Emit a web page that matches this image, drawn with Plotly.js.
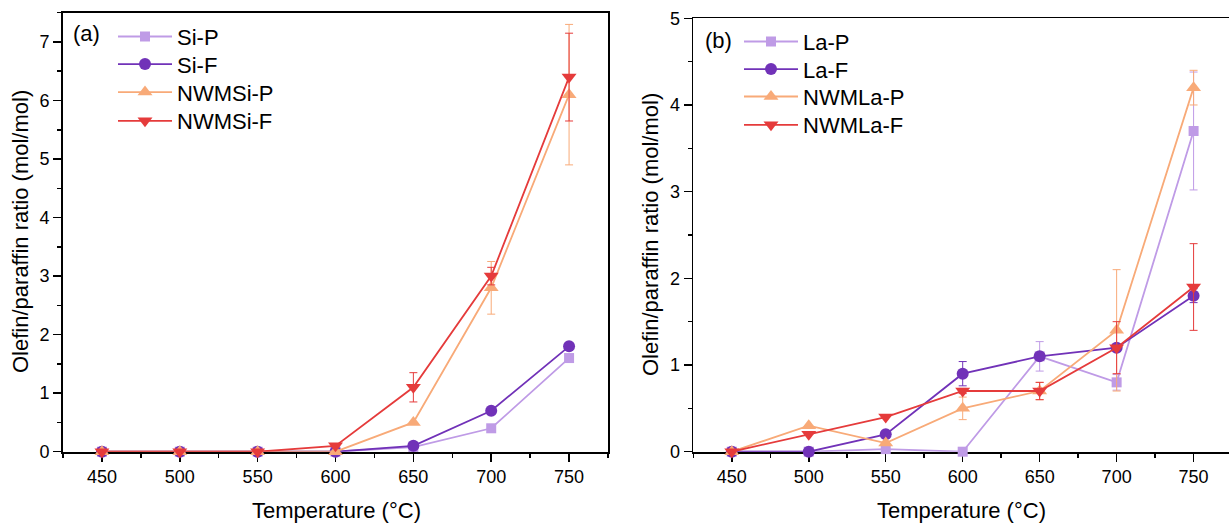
<!DOCTYPE html>
<html>
<head>
<meta charset="utf-8">
<script src="https://cdn.plot.ly/plotly-3.0.1.min.js"></script>
<style>
  html, body { margin: 0; padding: 0; background: #ffffff; overflow: hidden; }
  #chart { width: 1229px; height: 523px; }
</style>
</head>
<body>
<div id="chart"></div>
<script>
// ---------- data ----------
const temperatures = [450, 500, 550, 600, 650, 700, 750];

// panel (a)
const siP      = [0, 0, 0, 0, 0.08, 0.4, 1.6];
const siP_err  = [0, 0, 0, 0, 0, 0, 0];
const siF      = [0, 0, 0, 0, 0.1, 0.7, 1.8];
const siF_err  = [0, 0, 0, 0, 0, 0, 0.05];
const nwmSiP     = [0, 0, 0, 0, 0.5, 2.8, 6.1];
const nwmSiP_err = [0, 0, 0, 0, 0, 0.45, 1.2];
const nwmSiF     = [0, 0, 0, 0.1, 1.1, 3.0, 6.4];
const nwmSiF_err = [0, 0, 0, 0, 0.25, 0.15, 0.75];

// panel (b)
const laP      = [0, 0, 0.03, 0, 1.1, 0.8, 3.7];
const laP_err  = [0, 0, 0, 0, 0.17, 0.09, 0.68];
const laF      = [0, 0, 0.2, 0.9, 1.1, 1.2, 1.8];
const laF_err  = [0, 0, 0, 0.14, 0, 0, 0.08];
const nwmLaP     = [0, 0.3, 0.1, 0.5, 0.7, 1.4, 4.2];
const nwmLaP_err = [0, 0, 0, 0.13, 0.1, 0.7, 0.2];
const nwmLaF     = [0, 0.2, 0.4, 0.7, 0.7, 1.2, 1.9];
const nwmLaF_err = [0, 0, 0, 0.03, 0.1, 0.3, 0.5];

const namesA = ['Si-P', 'Si-F', 'NWMSi-P', 'NWMSi-F'];
const namesB = ['La-P', 'La-F', 'NWMLa-P', 'NWMLa-F'];

// ---------- styles ----------
const colors  = ['#bf9be6', '#7132b8', '#f8aa78', '#e53b3b'];
const symbols = ['square', 'circle', 'triangle-up', 'triangle-down'];
const sizes   = [10, 12, 13, 13];

function series(x, y, err, i, name, xa, ya, legendId) {
  return {
    type: 'scatter', mode: 'lines+markers',
    x: x, y: y, name: name,
    xaxis: xa, yaxis: ya, legend: legendId,
    cliponaxis: false,
    line: { color: colors[i], width: 1.8 },
    marker: { color: colors[i], symbol: symbols[i], size: sizes[i], line: { width: 0 } },
    error_y: { type: 'data', array: err, visible: true, color: colors[i], thickness: 1, width: 4 }
  };
}

const dataA = [
  series(temperatures, siP, siP_err, 0, namesA[0], 'x', 'y', 'legend'),
  series(temperatures, siF, siF_err, 1, namesA[1], 'x', 'y', 'legend2'),
  series(temperatures, nwmSiP, nwmSiP_err, 2, namesA[2], 'x', 'y', 'legend3'),
  series(temperatures, nwmSiF, nwmSiF_err, 3, namesA[3], 'x', 'y', 'legend4')
];
const dataB = [
  series(temperatures, laP, laP_err, 0, namesB[0], 'x2', 'y2', 'legend5'),
  series(temperatures, laF, laF_err, 1, namesB[1], 'x2', 'y2', 'legend6'),
  series(temperatures, nwmLaP, nwmLaP_err, 2, namesB[2], 'x2', 'y2', 'legend7'),
  series(temperatures, nwmLaF, nwmLaF_err, 3, namesB[3], 'x2', 'y2', 'legend8')
];

const W = 1229, H = 523;
const FONT = 'Liberation Sans, Arial, sans-serif';

function xAxis(domain, range, anchor) {
  return {
    domain: domain, range: range, anchor: anchor,
    tick0: 450, dtick: 50, ticks: 'outside', ticklen: 8, tickwidth: 1.5, tickcolor: '#000',
    showline: true, linecolor: '#000', linewidth: 1.8, mirror: true,
    showgrid: false, zeroline: false, layer: 'below traces',
    tickfont: { family: FONT, size: 18, color: '#000' },
    minor: { dtick: 25, tick0: 450, ticks: 'outside', ticklen: 4, tickwidth: 1.5, tickcolor: '#000', showgrid: false },
    automargin: false, fixedrange: true
  };
}
function yAxis(domain, range, anchor) {
  return {
    domain: domain, range: range, anchor: anchor,
    tick0: 0, dtick: 1, ticks: 'outside', ticklen: 8, tickwidth: 1.5, tickcolor: '#000',
    showline: true, linecolor: '#000', linewidth: 1.8, mirror: true,
    showgrid: false, zeroline: false, layer: 'below traces',
    tickfont: { family: FONT, size: 18, color: '#000' },
    minor: { dtick: 0.5, ticks: 'outside', ticklen: 4, tickwidth: 1.5, tickcolor: '#000', showgrid: false },
    automargin: false, fixedrange: true
  };
}

// one legend box per entry so that the row spacing matches the figure
const LEG_OFF = 21;
function legendAt(xpx, rowCenterPx) {
  return {
    x: xpx / W, y: 1 - (rowCenterPx - LEG_OFF) / H, xanchor: 'left', yanchor: 'top',
    bgcolor: 'rgba(0,0,0,0)', borderwidth: 0,
    font: { family: FONT, size: 22, color: '#000' },
    tracegroupgap: 0, itemwidth: 54
  };
}

const axTitleFont = { family: FONT, size: 22, color: '#000' };
const yTitle = 'Olefin/paraffin ratio (mol/mol)';
const xTitle = 'Temperature (°C)';

const layout = {
  width: W, height: H,
  margin: { l: 0, r: 0, t: 0, b: 0 },
  paper_bgcolor: '#fff', plot_bgcolor: '#fff',
  font: { family: FONT, color: '#000' },
  showlegend: true,
  xaxis:  xAxis([63 / W, 608 / W], [425, 775], 'y'),
  yaxis:  yAxis([1 - 451.7 / H, 1 - 12.7 / H], [0, 7.5], 'x'),
  xaxis2: xAxis([693.3 / W, 1], [425, 773], 'y2'),
  yaxis2: yAxis([1 - 451.7 / H, 1 - 18.3 / H], [0, 5], 'x2'),
  legend:  legendAt(113, 36.7),
  legend2: legendAt(113, 64.3),
  legend3: legendAt(113, 92.3),
  legend4: legendAt(113, 121),
  legend5: legendAt(739, 41.7),
  legend6: legendAt(739, 69.3),
  legend7: legendAt(739, 96.7),
  legend8: legendAt(739, 125),
  annotations: [
    { text: '(a)', x: 86 / W, y: 1 - 33 / H, xref: 'paper', yref: 'paper', showarrow: false, xanchor: 'center', yanchor: 'middle', font: { family: FONT, size: 22, color: '#000' } },
    { text: '(b)', x: 718 / W, y: 1 - 41 / H, xref: 'paper', yref: 'paper', showarrow: false, xanchor: 'center', yanchor: 'middle', font: { family: FONT, size: 22, color: '#000' } },
    { text: xTitle, x: 337 / W, y: 1 - 510 / H, xref: 'paper', yref: 'paper', showarrow: false, xanchor: 'center', yanchor: 'middle', font: axTitleFont },
    { text: xTitle, x: 961 / W, y: 1 - 510 / H, xref: 'paper', yref: 'paper', showarrow: false, xanchor: 'center', yanchor: 'middle', font: axTitleFont },
    { text: yTitle, x: 20 / W, y: 1 - 232 / H, xref: 'paper', yref: 'paper', showarrow: false, xanchor: 'center', yanchor: 'middle', textangle: -90, font: axTitleFont },
    { text: yTitle, x: 650 / W, y: 1 - 235 / H, xref: 'paper', yref: 'paper', showarrow: false, xanchor: 'center', yanchor: 'middle', textangle: -90, font: axTitleFont }
  ]
};

Plotly.newPlot('chart', dataA.concat(dataB), layout, { staticPlot: true, displayModeBar: false });
</script>
</body>
</html>
